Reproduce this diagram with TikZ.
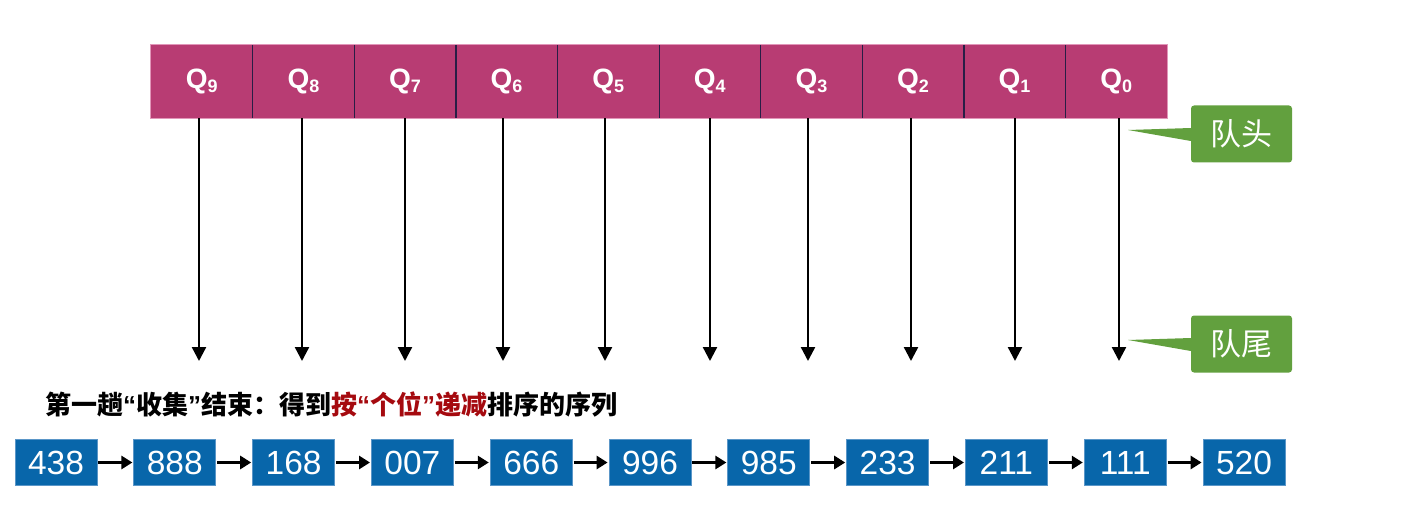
\documentclass[tikz,border=0pt]{standalone}
\usepackage{fontspec}
\setmainfont{Liberation Sans}
\newfontfamily\cjk{Noto Sans CJK SC}
\usetikzlibrary{arrows.meta}
\definecolor{qpink}{RGB}{184,60,115}
\definecolor{qedge}{RGB}{225,150,185}
\definecolor{qdiv}{RGB}{40,30,70}
\definecolor{nblue}{RGB}{8,102,170}
\definecolor{nedge}{RGB}{90,150,200}
\definecolor{lgreen}{RGB}{98,160,62}
\definecolor{dred}{RGB}{165,10,15}
\tikzset{
  qcell/.style={fill=qpink, minimum width=101.6pt, minimum height=73pt, inner sep=0pt, text=white, font=\fontsize{28}{28}\selectfont\bfseries},
  numbox/.style={fill=nblue, draw=nedge, line width=0.8pt, minimum width=82pt, minimum height=46pt, inner sep=0pt, text=white, font=\fontsize{33.5}{34}\selectfont},
  qarrow/.style={line width=2.4pt, -{Triangle[width=14pt,length=14pt]}},
  narrow/.style={line width=2.8pt, -{Triangle[width=13pt,length=11pt]}, shorten <=1pt, shorten >=1pt},
  callout/.style={fill=lgreen, rounded corners=3pt, minimum width=101pt, minimum height=57pt, inner sep=0pt, text=white, font=\cjk\fontsize{31}{31}\selectfont},
}
\newcommand{\qsub}[1]{Q\raisebox{-4pt}{\fontsize{18}{18}\selectfont\bfseries #1}}
\newcommand{\myLq}{{\fontspec{Liberation Sans}\bfseries “}}
\newcommand{\myRq}{{\fontspec{Liberation Sans}\bfseries ”}}
\begin{document}
\begin{tikzpicture}[x=1pt,y=-1pt]
\useasboundingbox (0,0) rectangle (1403,524);
% queue cells
\foreach \i/\n in {0/9,1/8,2/7,3/6,4/5,5/4,6/3,7/2,8/1,9/0}{
  \node[qcell] (q\n) at ({151+101.6*\i+50.8},81.5) {\qsub{\n}};
}
\draw[qedge, line width=0.8pt] (q9.north west) rectangle (q0.south east);
\foreach \a/\b in {9/8,8/7,7/6,6/5,5/4,4/3,3/2,2/1,1/0}{
  \draw[qdiv, line width=1.2pt] (q\a.north east) -- (q\a.south east);
}
% arrow ends
\foreach \n/\x in {9/199,8/302,7/405,6/503,5/605,4/710,3/808,2/911,1/1015,0/1119}{
  \coordinate (t\n) at (\x,361);
  \draw[qarrow] (q\n.south -| t\n) -- (t\n);
}
% callouts
\node[callout] (head) at (1241.5,134) {队头};
\node[callout] (tail) at (1241.5,344) {队尾};
\coordinate (hp) at (1128,130);
\coordinate (tp) at (1128,340);
\fill[lgreen] (hp) -- ([yshift=-7pt]head.west) -- ([yshift=6pt]head.west) -- cycle;
\fill[lgreen] (tp) -- ([yshift=-7pt]tail.west) -- ([yshift=6pt]tail.west) -- cycle;
% caption
\node[anchor=west, inner sep=0pt, font=\cjk\bfseries\fontsize{26}{27}\selectfont] (cap) at (45,405)
  {第一趟\myLq 收集\myRq 结束：得到\textcolor{dred}{按\myLq 个位\myRq 递减}排序的序列};
% number boxes
\foreach \i/\v in {0/438,1/888,2/168,3/007,4/666,5/996,6/985,7/233,8/211,9/111,10/520}{
  \node[numbox] (n\i) at ({56+118.8*\i},462.5) {\v};
}
\foreach \a/\b in {0/1,1/2,2/3,3/4,4/5,5/6,6/7,7/8,8/9,9/10}{
  \draw[narrow] (n\a.east) -- (n\b.west);
}
\end{tikzpicture}
\end{document}
